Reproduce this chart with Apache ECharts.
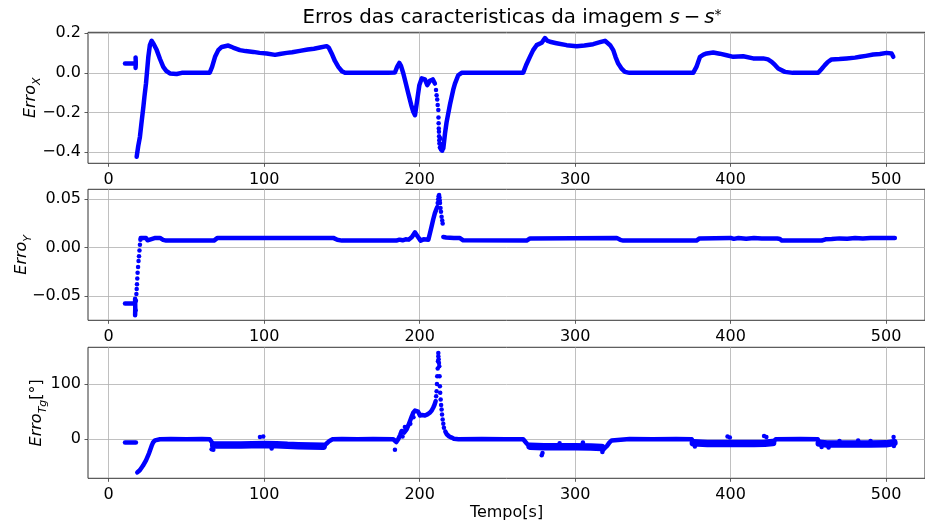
<!DOCTYPE html>
<html><head><meta charset="utf-8">
<script src="https://cdn.jsdelivr.net/npm/echarts@6/dist/echarts.min.js"></script>
<style>html,body{margin:0;padding:0;background:#fff}#c{width:925px;height:524px}</style>
</head><body><div id="c"></div>
<script>
// ---- tick labels ----
const xTicks = [0, 100, 200, 300, 400, 500];
const yTicksX = [-0.4, -0.2, 0, 0.2];
const yTicksY = [-0.05, 0, 0.05];
const yTicksTg = [0, 100];

// ---- Erro X : dense trace (null = gap) and sparse dots ----
const erroX = [[10.5,0.047],[16.8,0.047],null,
[17.3,0.078],[17.4,0.06],[17.4,0.04],[17.3,0.025],null,
[18,-0.424],[19,-0.37],[20.1,-0.323],[21,-0.26],[22.3,-0.172],[23,-0.12],[24,-0.054],[25.5,0.081],[26.5,0.14],[27.6,0.162],[29,0.145],[30.9,0.115],[33,0.07],[35.1,0.03],[37,0.01],[39.4,-0.003],[43.7,-0.006],[47,0],[55,0.001],[65,0.001],[66.5,0.03],[68.4,0.081],[70.5,0.115],[72.7,0.131],[76.9,0.138],[80,0.128],[84.4,0.115],[88,0.11],[93,0.106],[97,0.101],[101.6,0.098],[107,0.091],[110,0.095],[114.5,0.101],[118,0.104],[123,0.111],[128,0.118],[132,0.122],[135.9,0.128],[140.2,0.135],[141.5,0.128],[143.4,0.098],[145.5,0.06],[147.7,0.03],[150,0.008],[152,0],[160,0.001],[170,0],[180,0.001],[184.1,0.002],[185.5,0.03],[186.9,0.05],[188,0.035],[189.5,-0.003],[191,-0.05],[192.7,-0.104],[194.5,-0.16],[195.9,-0.197],[197,-0.214],[198.1,-0.155],[199.8,-0.062],[201.3,-0.028],[203.4,-0.033],[204.9,-0.062],[206.6,-0.04],[208.4,-0.033],[209.8,-0.054],null,
[215.2,-0.382],[216.3,-0.306],[217.3,-0.25],[218.4,-0.205],[219.5,-0.16],[220.6,-0.121],[221.6,-0.085],[222.7,-0.054],[224.8,-0.012],[227,0],[240,0.001],[255,0],[266.6,0.001],[268.5,0.04],[270.9,0.081],[273,0.115],[275.2,0.14],[278.5,0.152],[280.6,0.176],[282,0.163],[283.8,0.157],[288,0.15],[294.5,0.14],[301,0.135],[306,0.138],[311.6,0.145],[316,0.155],[319.2,0.162],[320.3,0.16],[322.5,0.14],[324.5,0.115],[326,0.08],[327.7,0.047],[330,0.02],[332,0.005],[335,0],[345,0.001],[355,0],[365,0],[376,0.001],[378,0.03],[380.3,0.081],[382.5,0.092],[384.6,0.098],[388.8,0.103],[393,0.097],[397.4,0.089],[401.7,0.081],[408.1,0.084],[414.5,0.073],[421,0.073],[424,0.068],[426.4,0.056],[428.5,0.04],[430.6,0.022],[434.9,0.005],[440,0],[450,0.001],[456.3,0.001],[458.5,0.02],[460.6,0.039],[462.5,0.055],[464.9,0.068],[470,0.07],[474.6,0.073],[480,0.077],[483.2,0.081],[487,0.086],[491.7,0.093],[496,0.095],[500.3,0.101],[503.5,0.098],[504.6,0.081]];
const erroXDots = [[210.5,-0.087],[210.9,-0.113],[211.3,-0.134],[211.6,-0.163],[212,-0.188],[212.1,-0.225],[212.2,-0.255],[212.3,-0.281],[212.4,-0.298],[212.5,-0.32],[212.6,-0.34],[212.7,-0.357],[213,-0.377],[213.7,-0.387],[214.5,-0.394],[213.2,-0.33],[213.5,-0.36],[213.9,-0.372]];

// ---- Erro Y ----
const erroY = [[10.5,-0.0578],[16.5,-0.0578],null,[17,-0.053],[17.1,-0.062],[17,-0.070],null,
[20.6,0.010],[24,0.010],[25,0.0075],[26,0.0095],[30,0.010],[33,0.010],[35,0.008],[37,0.0072],[50,0.0072],[67.7,0.0072],[70,0.010],[100,0.010],[144.4,0.010],[147,0.008],[150,0.0072],[185,0.0072],[187,0.0082],[189,0.0075],[191,0.0085],[193,0.0082],[195,0.011],[197,0.0157],[198.5,0.012],[200.6,0.0072],[202.5,0.0085],[205.6,0.0082],[206.5,0.014],[207.7,0.022],[208.7,0.029],[209.8,0.0356],[210.6,0.039],[211.3,0.042],null,
[215.2,0.011],[217,0.0105],[222,0.010],[225.9,0.0098],[228,0.0075],[229,0.0072],[268.8,0.0072],[271,0.0095],[272,0.010],[326.7,0.010],[329,0.008],[331,0.0072],[378,0.0072],[380,0.0095],[381,0.010],[400,0.010],[402,0.009],[405,0.0098],[410,0.0092],[415,0.0098],[420,0.0095],[425,0.0093],[430,0.0093],[431.7,0.0088],[433,0.0072],[458.5,0.0072],[461,0.0085],[465,0.0088],[470,0.0095],[475,0.0092],[480,0.0098],[485,0.0093],[490,0.010],[505.6,0.010]];
const erroYDots = [[17.3,-0.065],[17.5,-0.055],[17.8,-0.048],[18,-0.043],[18.2,-0.038],[18.4,-0.032],[18.6,-0.026],[18.9,-0.02],[19.2,-0.014],[19.5,-0.009],[19.8,-0.003],[20.1,0.003],[20.4,0.008],[211.6,0.046],[211.9,0.05],[212.2,0.053],[212.5,0.0545],[212.7,0.052],[212.9,0.049],[213.1,0.046],[213.4,0.041],[213.7,0.037],[214.1,0.032],[214.5,0.028],[214.8,0.025]];

// ---- Erro Tg [deg]: smooth trace, noisy-band centres, scattered dots ----
const erroTg = [[10.5,-6],[17.5,-6],null,
[18.4,-60],[20,-56],[22,-48],[24,-38],[26,-25],[27.6,-12],[28.5,-6],[29.8,-2],[31,-0.5],[33,0],[40,0.5],[50,0],[60,0.5],[65,0],[66,-3],[67.5,-10],null,
[138,-12.5],[140,-8],[142,-3],[144,0],[150,0.5],[160,0],[170,0.5],[183,0],[185,-5],[186.2,0],[187.5,8],[188.4,15],[190,12],[191.6,18],[192.7,25],[193.8,33],[195,42],[195.9,48],[197,52],[198.1,53],[199,50],[200.2,43],[201.5,44],[203.4,43],[205,45],[206.6,48],[207.7,52],[208.7,57],[209.5,62],[210.3,69],null,
[216.5,14],[217.4,9],[219,5],[220.6,3],[222,1],[225,0],[240,0.5],[255,0],[266.6,0],[267,-3],[269,-8],[271,-12.5],null,
[317,-15],[317.6,-20],[319,-16],[320.5,-12],[322,-6],[323.5,-2],[324.5,0],[335,0.5],[350,0],[365,0.5],[375,0],[376,-5],null,
[427,-6],[427.5,-3],[429,0],[445,0.5],[456,0],[457,-6]];
const erroTgBand = [[67.5,-10.5],[75,-10.5],[85,-10.5],[92,-9.8],[100,-9.5],[108,-10],[115,-11],[122,-11.5],[130,-12],[138,-12.5],null,
[271,-12.5],[280,-13.5],[290,-13.5],[300,-13.5],[310,-14],[317,-15],null,
[376,-6.5],[385,-7.5],[395,-7.5],[405,-7.8],[415,-7.5],[422,-7.2],[427,-6],null,
[457,-7],[462,-8.5],[470,-8.5],[480,-8.5],[490,-8.5],[500,-8.3],[505,-6]];
const erroTgDots = [[67.3,-19],[66.2,-18],[97.3,4.2],[99.4,4.8],[104.8,-16.7],[184.1,-19],[189,5],[190.5,22],[194,28],[196,40],
[210.6,78],[210.9,87],[211.1,100],[211.3,114],[211.6,128],[211.8,141],[212,150],[212,156],[212.2,145],[212.4,138],[212.6,132],[212.8,114],[213,96],[213.2,84],[213.5,72],[213.8,62],[214.1,54],[214.4,45],[214.8,36],[215.2,28],[215.6,21],
[278.5,-29],[279,-25],[317.5,-23],[290,-7],[305,-6],[377,-13],[398,5],[399.5,3],[421.5,6],[423,4],[458.5,-14],[463,-15],[470,-3],[482,-2],[490,-3],[504.8,4],[505,-12]];

// ---- build ----
const BLUE = '#0000ff';
const FONT = 'DejaVu Sans';
function segments(arr){const out=[];let cur=[];for(const p of arr){if(p===null){if(cur.length)out.push(cur);cur=[];}else cur.push(p);}if(cur.length)out.push(cur);return out;}
function lineSeries(arr, idx, w){return segments(arr).map(seg=>({type:'line',xAxisIndex:idx,yAxisIndex:idx,data:seg,showSymbol:false,symbol:'none',silent:true,
  lineStyle:{color:BLUE,width:w||4.5,cap:'round',join:'round',opacity:1},animation:false,z:3}));}
function dotSeries(arr, idx){return {type:'scatter',xAxisIndex:idx,yAxisIndex:idx,data:arr,symbolSize:4.5,itemStyle:{color:BLUE,opacity:1},silent:true,animation:false,z:4};}
const minus = s => s.replace('-', '\u2212');

const gridTops=[32.3,189.3,347.3];
const grids=gridTops.map(t=>({left:88,top:t,width:837,height:131,show:true,borderColor:'#333',borderWidth:1,containLabel:false}));
const splitLine={show:true,lineStyle:{color:'#b0b0b0',width:0.8}};
const tickStyle={show:true,length:3.5,lineStyle:{color:'#333',width:0.8}};
const labelStyle={color:'#000',fontFamily:FONT,fontSize:16};

const xAxes=[0,1,2].map(i=>({type:'value',gridIndex:i,min:-13.3,max:525,
  axisLine:{show:false,onZero:false},splitLine,axisTick:Object.assign({customValues:xTicks},tickStyle),
  axisLabel:Object.assign({customValues:xTicks,margin:9,formatter:v=>String(v)},labelStyle),
  name:i===2?'Tempo[s]':'',nameLocation:'middle',nameGap:27,nameMoveOverlap:false,
  nameTextStyle:{color:'#000',fontFamily:FONT,fontSize:16}}));

const nameRich={
  i:{fontFamily:FONT,fontStyle:'italic',fontSize:16,lineHeight:16,verticalAlign:'top',color:'#000'},
  n:{fontFamily:FONT,fontSize:16,lineHeight:16,verticalAlign:'top',color:'#000'},
  s:{fontFamily:FONT,fontStyle:'italic',fontSize:11,lineHeight:11,padding:[9,0,0,0],verticalAlign:'top',color:'#000'}
};
function yAx(i,min,max,ticks,fmt,name,gap){return {type:'value',gridIndex:i,min,max,
  axisLine:{show:false,onZero:false},splitLine,axisTick:Object.assign({customValues:ticks},tickStyle),
  axisLabel:Object.assign({customValues:ticks,margin:7,formatter:fmt},labelStyle),
  name,nameLocation:'middle',nameRotate:90,nameGap:gap,nameMoveOverlap:false,nameTextStyle:{rich:nameRich}};}
const yAxes=[
  yAx(0,-0.457,0.205,yTicksX,v=>minus(v.toFixed(1)),'{i|Erro}{s|X}',49),
  yAx(1,-0.0753,0.0603,yTicksY,v=>minus(v.toFixed(2)),'{i|Erro}{s|Y}',58),
  yAx(2,-70.6,166.4,yTicksTg,v=>minus(String(v)),'{i|Erro}{s|Tg}{n|[°]}',43)
];

const series=[].concat(
  lineSeries(erroX,0),[dotSeries(erroXDots,0)],
  lineSeries(erroY,1),[dotSeries(erroYDots,1)],
  lineSeries(erroTg,2),lineSeries(erroTgBand,2,7.5),[dotSeries(erroTgDots,2)]);

const chart=echarts.init(document.getElementById('c'),null,{renderer:'canvas'});
chart.setOption({
  backgroundColor:'#fff',animation:false,
  grid:grids,xAxis:xAxes,yAxis:yAxes,series,
  graphic:[{type:'text',x:512,y:18,silent:true,style:{
    text:'{t|Erros das caracteristicas da imagem }{i|s}{t|\u2009\u2212\u2009}{i|s}{p|*}',
    align:'center',verticalAlign:'middle',
    rich:{t:{fontFamily:FONT,fontSize:19.8,lineHeight:20,verticalAlign:'top',fill:'#000'},
          i:{fontFamily:FONT,fontStyle:'italic',fontSize:19.8,lineHeight:20,verticalAlign:'top',fill:'#000'},
          p:{fontFamily:FONT,fontSize:14,lineHeight:14,verticalAlign:'top',fill:'#000'}}}}]
});
</script></body></html>
